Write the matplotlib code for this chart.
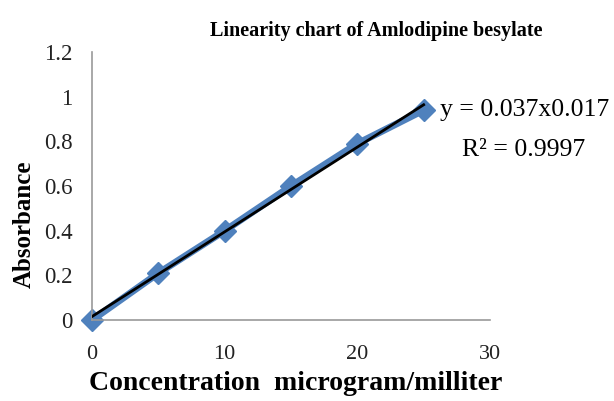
import numpy as np
import matplotlib
matplotlib.use("Agg")
import matplotlib.pyplot as plt

# Data
concentration = [0, 5, 10, 15, 20, 25]
absorbance    = [0.0, 0.21, 0.40, 0.60, 0.79, 0.94]

xTicks = [0, 10, 20, 30]
yTicks = [0, 0.2, 0.4, 0.6, 0.8, 1.0, 1.2]
yTickLabels = ["0", "0.2", "0.4", "0.6", "0.8", "1", "1.2"]

title  = "Linearity chart of Amlodipine besylate"
xLabel = "Concentration  microgram/milliter"
yLabel = "Absorbance"
eqText = "y = 0.037x0.017"
r2Text = "R\u00b2 = 0.9997"

#------------------------------------------------------------------------------#

plt.rcParams['font.family'] = ['Liberation Serif', 'DejaVu Serif']

fig = plt.figure(figsize=(6.14, 4.01), dpi=100)
ax  = fig.add_axes([0.150, 0.202, 0.648, 0.668])

blue = '#4F81BD'
ax.plot(concentration, absorbance, color=blue, lw=5, marker='D',
        markersize=11, markeredgecolor=blue, solid_capstyle='round',
        clip_on=False, zorder=2)

# Linear trendline
slope, intercept = np.polyfit(concentration, absorbance, 1)
xFit = np.array([concentration[0], concentration[-1]])
ax.plot(xFit, slope*xFit + intercept, color='black', lw=2, zorder=3)

ax.set_xlim(0, 30)
ax.set_ylim(0, 1.2)
ax.set_xticks(xTicks)
ax.set_yticks(yTicks)
ax.set_yticklabels(yTickLabels)
ax.tick_params(axis='both', length=0, colors='#222222')
ax.tick_params(axis='y', pad=14, labelsize=16.5)
ax.tick_params(axis='x', pad=18, labelsize=16)

for side in ['top', 'right']:
    ax.spines[side].set_visible(False)
for side in ['left', 'bottom']:
    ax.spines[side].set_color('#9a9a9a')
    ax.spines[side].set_linewidth(1.2)

fig.text(376/614, 1 - 31/401, title, ha='center', va='center',
         fontsize=14.5, fontweight='bold')
fig.text(296/614, 1 - 383/401, xLabel, ha='center', va='center',
         fontsize=20, fontweight='bold')
fig.text(24/614, 1 - 224/401, yLabel, ha='center', va='center',
         fontsize=18, fontweight='bold', rotation=90)

fig.text(440/614, 1 - 110/401, eqText, ha='left', va='center', fontsize=18.5)
fig.text(462/614, 1 - 150/401, r2Text, ha='left', va='center', fontsize=18.5)

fig.savefig("out.png", dpi=100)
